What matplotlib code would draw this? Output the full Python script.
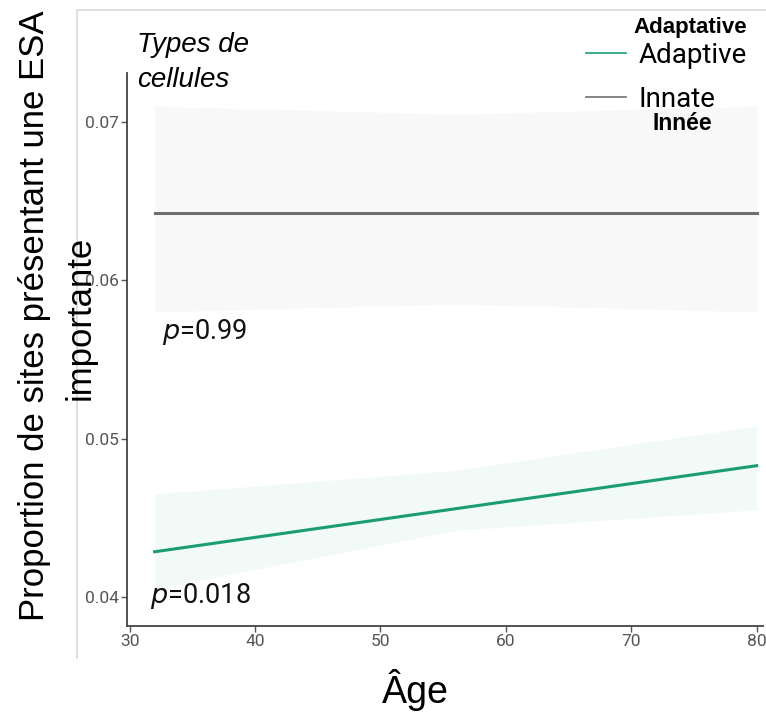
import matplotlib
matplotlib.use("Agg")
import matplotlib.pyplot as plt
from matplotlib.lines import Line2D

# ---- data ----
cell_types = ["Adaptive", "Innate"]
ages = [32, 80]
adaptive_fit = [0.04285, 0.04829]
innate_fit = [0.06424, 0.06424]
ribbon_ages = [32, 56, 80]
adaptive_low = [0.0405, 0.0442, 0.0455]
adaptive_high = [0.0465, 0.0480, 0.0508]
innate_low = [0.0580, 0.0585, 0.0580]
innate_high = [0.0710, 0.0705, 0.0710]
p_values = ["0.018", "0.99"]
x_ticks = [30, 40, 50, 60, 70, 80]
y_ticks = [0.04, 0.05, 0.06, 0.07]
y_tick_labels = ["0.04", "0.05", "0.06", "0.07"]

W, H = 766, 715
fig = plt.figure(figsize=(W / 100, H / 100), dpi=100)
fig.patch.set_facecolor("white")

# light frame (left and top edges) from the original image
fig.add_artist(Line2D([77 / W, 77 / W, 1], [1 - 658 / H, 1 - 10 / H, 1 - 10 / H],
                      transform=fig.transFigure, color="#d9d9d9", lw=1.2))

ax = fig.add_axes([127 / W, 1 - 626 / H, (763 - 127) / W, (626 - 73) / H])
ax.set_facecolor("none")

green = "#1a9e6e"
grey = "#6f6f6f"

ax.fill_between(ribbon_ages, innate_low, innate_high, color="#f4f4f4", alpha=0.6, lw=0)
ax.fill_between(ribbon_ages, adaptive_low, adaptive_high, color="#d6f0e5", alpha=0.3, lw=0)
l_ad, = ax.plot(ages, adaptive_fit, color=green, lw=2.2)
l_in, = ax.plot(ages, innate_fit, color=grey, lw=2.2)

ax.set_xlim(29.8, 80.5)
ax.set_ylim(0.03816, 0.0731)
ax.set_xticks(x_ticks)
ax.set_yticks(y_ticks)
ax.set_yticklabels(y_tick_labels)
for s in ["top", "right"]:
    ax.spines[s].set_visible(False)
for s in ["left", "bottom"]:
    ax.spines[s].set_color("#444444")
    ax.spines[s].set_linewidth(1.3)
ax.tick_params(axis="both", colors="#555555", labelcolor="#555555", length=4,
               width=1, labelsize=12.5, pad=2)
for t in ax.get_xticklabels() + ax.get_yticklabels():
    t.set_family("Roboto")

# p-values
ax.text(32.6, 0.05675, "$p$=" + p_values[1], fontsize=19.5, family="Roboto",
        ha="left", va="center", color="#111111")
ax.text(31.6, 0.04003, "$p$=" + p_values[0], fontsize=19.5, family="Roboto",
        ha="left", va="center", color="#111111")

# axis labels
fig.text(35 / W, 1 - 316 / H, "Proportion de sites présentant une ESA",
         rotation=90, ha="center", va="center", fontsize=25,
         family="Liberation Sans")
fig.text(80 / W, 1 - 318 / H, "importante", rotation=90, ha="center",
         va="center", fontsize=25, family="Liberation Sans")
fig.text(415 / W, 1 - 690 / H, "Âge", ha="center", va="center", fontsize=27,
         family="Liberation Sans")

# legend
fig.text(137 / W, 1 - 45 / H, "Types de", fontsize=20, style="italic",
         family="Liberation Sans", ha="left", va="center")
fig.text(137 / W, 1 - 80 / H, "cellules", fontsize=20, style="italic",
         family="Liberation Sans", ha="left", va="center")
leg = fig.legend([l_ad, l_in], cell_types, loc="upper left",
                 bbox_to_anchor=(561 / W, 1 - 17 / H), frameon=False,
                 handlelength=1.45, handletextpad=0.45, labelspacing=0.6,
                 prop={"family": "Roboto", "size": 20})
for h in leg.get_lines():
    h.set_linewidth(1.2)
fig.text(690 / W, 1 - 27 / H, "Adaptative", fontsize=16, fontweight="bold",
         family="Liberation Sans", ha="center", va="center")
fig.text(682 / W, 1 - 123 / H, "Innée", fontsize=16.5, fontweight="bold",
         family="Liberation Sans", ha="center", va="center")

fig.savefig("out.png", dpi=100)
